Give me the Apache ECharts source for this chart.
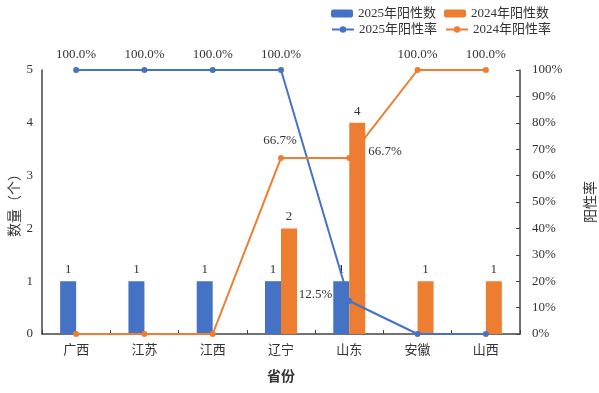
<!DOCTYPE html>
<html><head><meta charset="utf-8">
<script src="https://cdn.jsdelivr.net/npm/echarts@6/dist/echarts.min.js"></script>
<style>html,body{margin:0;padding:0;background:#fff}#c{width:599px;height:393px}</style>
</head><body><div id="c"></div>
<script>
var categories = ['广西','江苏','江西','辽宁','山东','安徽','山西'];
var count2025 = [1,1,1,1,1,0,0];
var count2024 = [0,0,0,2,4,1,1];
var rate2025 = [100,100,100,100,12.5,0,0];
var rate2024 = [0,0,0,66.7,66.7,100,100];
var leftTicks = [0,1,2,3,4,5];
var rightTicks = [0,10,20,30,40,50,60,70,80,90,100];
var leftAxisName = '数量（个）';

var BLUE = '#4472C4', ORANGE = '#ED7D31';
var FONT = "'Liberation Serif','Noto Sans CJK SC',serif";
var txt = {fontFamily: FONT, fontSize: 13, color: '#333'};

function rateData(arr, posFn) {
  return arr.map(function (v, i) {
    var p = posFn(v, i);
    return {value: v, label: p ? Object.assign({show: true}, p) : {show: false}};
  });
}
var r25 = rateData(rate2025, function (v, i) {
  if (v === 0) return null;
  if (v === 12.5) return {position: 'left', distance: 14, offset: [0, -6]};
  return {position: 'top', distance: 6};
});
var r24 = rateData(rate2024, function (v, i) {
  if (v === 0) return null;
  if (i === 3) return {position: 'top', distance: 8, offset: [-1, 0]};
  if (i === 4) return {position: 'right', distance: 16, offset: [0, -6]};
  return {position: 'top', distance: 6};
});

var chart = echarts.init(document.getElementById('c'), null, {renderer: 'canvas'});
chart.setOption({
  animation: false,
  textStyle: {fontFamily: FONT},
  graphic: [{
    type: 'text', x: 15, y: 202, rotation: Math.PI / 2,
    style: {text: leftAxisName, fontFamily: FONT, fontSize: 14, fill: '#333', align: 'center', verticalAlign: 'middle'}
  }],
  legend: [{
    data: ['2025年阳性数','2024年阳性数'], left: 326, top: 2, itemWidth: 22, itemHeight: 8, itemGap: 8,
    textStyle: {fontFamily: FONT, fontSize: 13, color: '#333'}
  }, {
    data: ['2025年阳性率','2024年阳性率'], left: 326, top: 18, itemWidth: 22, itemHeight: 8, itemGap: 8,
    textStyle: {fontFamily: FONT, fontSize: 13, color: '#333'}
  }],
  grid: {left: 42, right: 79, top: 70, bottom: 59, containLabel: false, outerBoundsMode: 'none'},
  xAxis: {
    type: 'category', data: categories,
    name: '省份', nameLocation: 'middle', nameGap: 36,
    nameTextStyle: {fontFamily: FONT, fontSize: 14, fontWeight: 'bold', color: '#333'},
    axisLine: {lineStyle: {color: '#444', width: 1.5}},
    axisTick: {show: true, inside: true, length: 4, lineStyle: {color: '#444'}},
    axisLabel: Object.assign({margin: 10}, txt)
  },
  yAxis: [{
    type: 'value', min: 0, max: 5, interval: 1,
    axisLine: {show: true, lineStyle: {color: '#444', width: 1.5}},
    axisTick: {show: false},
    splitLine: {show: false},
    axisLabel: Object.assign({margin: 9, formatter: function (v) { return leftTicks.indexOf(v) >= 0 ? String(v) : ''; }}, txt)
  }, {
    type: 'value', min: 0, max: 100, interval: 10, position: 'right',
    name: '阳性率', nameLocation: 'middle', nameGap: 64, nameRotate: 90,
    nameTextStyle: {fontFamily: FONT, fontSize: 14, color: '#333'},
    axisLine: {show: true, lineStyle: {color: '#444', width: 1.5}},
    axisTick: {show: true, inside: true, length: 4, lineStyle: {color: '#444'}},
    splitLine: {show: false},
    axisLabel: Object.assign({margin: 12, formatter: function (v) { return rightTicks.indexOf(v) >= 0 ? v + '%' : ''; }}, txt)
  }],
  series: [{
    name: '2025年阳性数', type: 'bar', data: count2025, barWidth: 16, barGap: '0%',
    itemStyle: {color: BLUE},
    label: Object.assign({show: true, position: 'top', distance: 5, formatter: function (p) { return p.value ? p.value : ''; }}, txt)
  }, {
    name: '2024年阳性数', type: 'bar', data: count2024, barWidth: 16, barGap: '0%',
    itemStyle: {color: ORANGE},
    label: Object.assign({show: true, position: 'top', distance: 5, formatter: function (p) { return p.value ? p.value : ''; }}, txt)
  }, {
    name: '2025年阳性率', type: 'line', yAxisIndex: 1, data: r25,
    symbol: 'circle', symbolSize: 6, lineStyle: {color: BLUE, width: 2}, itemStyle: {color: BLUE},
    label: Object.assign({formatter: function (p) { return p.value.toFixed(1) + '%'; }}, txt)
  }, {
    name: '2024年阳性率', type: 'line', yAxisIndex: 1, data: r24,
    symbol: 'circle', symbolSize: 6, lineStyle: {color: ORANGE, width: 2}, itemStyle: {color: ORANGE},
    label: Object.assign({formatter: function (p) { return p.value.toFixed(1) + '%'; }}, txt)
  }]
});
</script></body></html>
